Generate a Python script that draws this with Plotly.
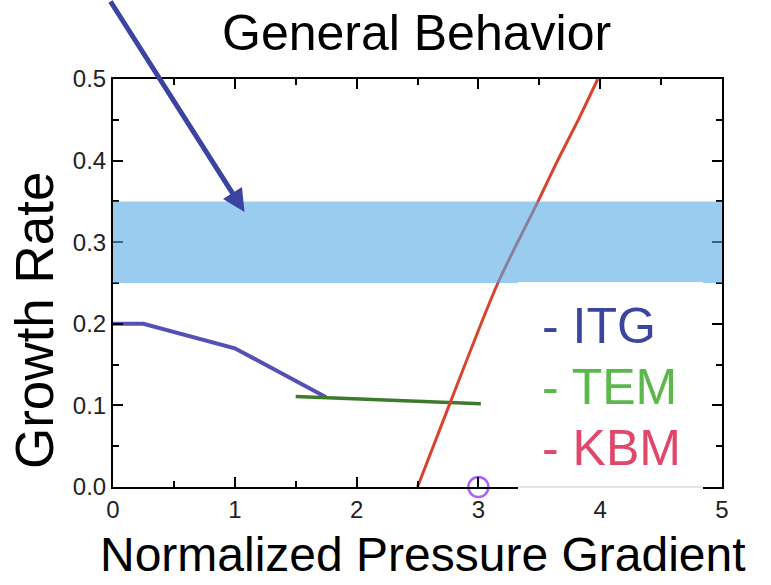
import plotly.graph_objects as go

# ---- data ----
itg_x = [0.0, 0.25, 1.0, 1.75]
itg_y = [0.20, 0.20, 0.17, 0.11]

tem_x = [1.5, 3.02]
tem_y = [0.111, 0.102]

kbm_x = [2.5, 2.77, 3.16, 3.49, 3.65, 3.82, 3.98]
kbm_y = [0.0, 0.104, 0.25, 0.35, 0.40, 0.45, 0.50]

band_low, band_high = 0.25, 0.35
marker_x = [3.0]
marker_y = [0.0]

x_ticks = [0, 1, 2, 3, 4, 5]
y_ticks = [0.0, 0.1, 0.2, 0.3, 0.4, 0.5]
legend_labels = ["- ITG", "- TEM", "- KBM"]
legend_colors = ["#3b459f", "#5bb84a", "#e0486b"]

W, H = 771, 585
L, R, T, B = 113, 49, 79, 98
PW, PH = W - L - R, H - T - B


def px(x):
    return (x - L) / PW


def py(y):
    return (H - B - y) / PH


fig = go.Figure()
fig.add_trace(go.Scatter(x=itg_x, y=itg_y, mode="lines",
                         line=dict(color="#5650b6", width=4), showlegend=False))
fig.add_trace(go.Scatter(x=tem_x, y=tem_y, mode="lines",
                         line=dict(color="#3d7a2c", width=3.5), showlegend=False))
fig.add_trace(go.Scatter(x=kbm_x, y=kbm_y, mode="lines",
                         line=dict(color="#d8432d", width=3, shape="spline", smoothing=0.8),
                         showlegend=False))
fig.add_trace(go.Scatter(x=marker_x, y=marker_y, mode="markers", cliponaxis=False,
                         marker=dict(symbol="circle-open", size=20,
                                     line=dict(color="#9a66c8", width=2.5)),
                         showlegend=False))

shapes = [
    dict(type="rect", xref="paper", yref="y", x0=0, x1=1, y0=band_low, y1=band_high,
         fillcolor="rgba(86,170,230,0.6)", line=dict(width=0), layer="above"),
    dict(type="rect", xref="paper", yref="paper", x0=px(518), x1=px(703),
         y0=-0.006, y1=py(282), fillcolor="white", line=dict(width=0), layer="above"),
    dict(type="line", xref="paper", yref="paper", x0=px(518), x1=px(703),
         y0=0, y1=0, line=dict(color="#c8c8c8", width=1), layer="above"),
]

annotations = [
    dict(text="General Behavior", xref="paper", yref="paper", x=px(416), y=py(33),
         showarrow=False, font=dict(family="Liberation Sans, Arial", size=50, color="black"),
         xanchor="center", yanchor="middle"),
    dict(text="Normalized Pressure Gradient", xref="paper", yref="paper", x=px(423), y=py(554),
         showarrow=False, font=dict(family="Liberation Sans, Arial", size=48, color="black"),
         xanchor="center", yanchor="middle"),
    dict(text="Growth Rate", xref="paper", yref="paper", x=px(34), y=py(320), textangle=-90,
         showarrow=False, font=dict(family="Liberation Sans, Arial", size=53, color="black"),
         xanchor="center", yanchor="middle"),
    dict(text="", xref="x", yref="y", x=1.08, y=0.337, ax=-135, ay=-222,
         showarrow=True, arrowhead=2, arrowsize=0.9, arrowwidth=5, arrowcolor="#3b44a0"),
]
for i, (lab, col) in enumerate(zip(legend_labels, legend_colors)):
    annotations.append(dict(text=lab, xref="paper", yref="paper", x=px(540), y=py(326 + 61 * i),
                            showarrow=False, xanchor="left", yanchor="middle",
                            font=dict(family="Liberation Sans, Arial", size=50, color=col)))

axis_common = dict(showline=True, linecolor="black", linewidth=2, mirror="ticks",
                   ticks="inside", ticklen=10, tickwidth=2, tickcolor="black",
                   showgrid=False, zeroline=False,
                   tickfont=dict(family="Liberation Sans, Arial", size=24, color="#222"))

fig.update_layout(
    width=W, height=H, autosize=False,
    margin=dict(l=L, r=R, t=T, b=B),
    paper_bgcolor="white", plot_bgcolor="white",
    xaxis=dict(range=[0, 5], tickvals=x_ticks, ticktext=[str(v) for v in x_ticks],
               minor=dict(ticks="inside", ticklen=6, tickwidth=2, tickcolor="black", dtick=0.5),
               **axis_common),
    yaxis=dict(range=[0, 0.5], tickvals=y_ticks, ticktext=[f"{v:.1f}" for v in y_ticks],
               minor=dict(ticks="inside", ticklen=6, tickwidth=2, tickcolor="black", dtick=0.05),
               **axis_common),
    shapes=shapes,
    annotations=annotations,
)

fig.write_html("out.html")
